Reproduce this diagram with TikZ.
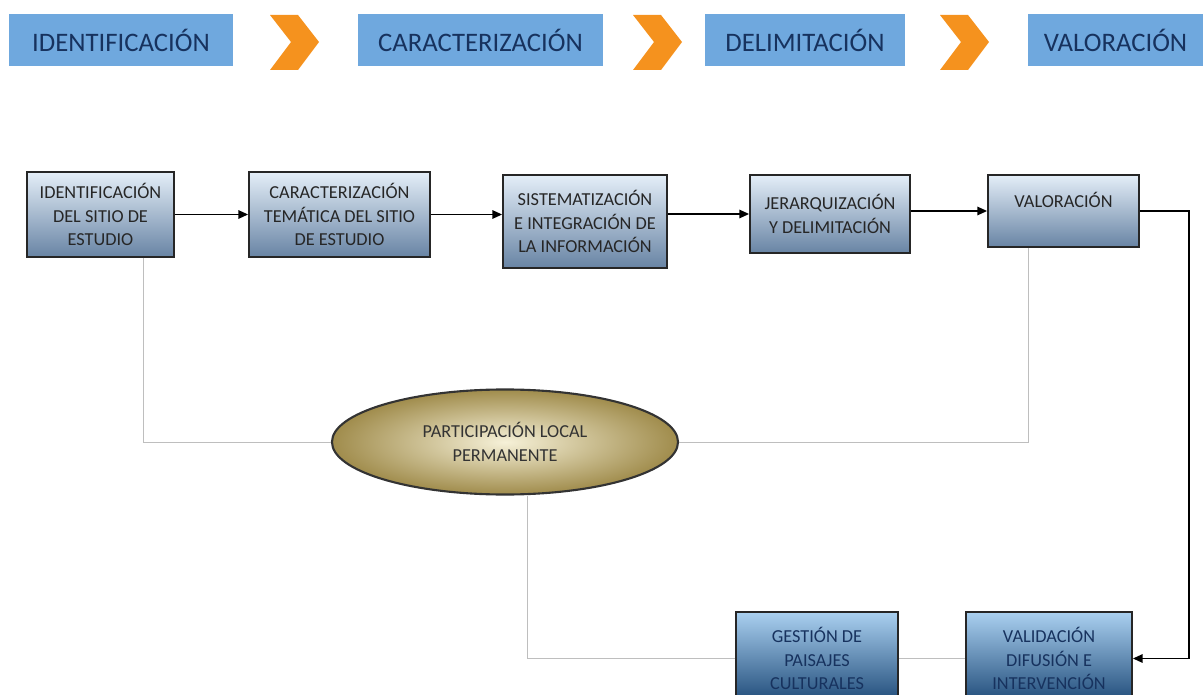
\documentclass[tikz,border=0pt]{standalone}
\usepackage{fontspec}
\setmainfont{Carlito}
\usetikzlibrary{arrows.meta,shapes.geometric}

\definecolor{barblue}{RGB}{111,168,222}
\definecolor{bartext}{RGB}{23,50,94}
\definecolor{chev}{RGB}{245,146,30}
\definecolor{boxtop}{RGB}{228,238,248}
\definecolor{boxbot}{RGB}{104,132,164}
\definecolor{deeptop}{RGB}{170,208,240}
\definecolor{deepbot}{RGB}{28,72,118}
\definecolor{goldin}{RGB}{246,241,216}
\definecolor{goldout}{RGB}{160,140,76}
\definecolor{linkgray}{RGB}{190,190,190}

\tikzset{
  bar/.style={fill=barblue, text=bartext, inner sep=0pt, minimum height=1.3cm,
    font=\fontsize{19}{22}\selectfont},
  stage/.style={draw=black!85, line width=1.2pt, top color=boxtop, bottom color=boxbot,
    align=center, inner sep=2pt, text=black!85, font=\fontsize{13}{17}\selectfont},
  deep/.style={stage, top color=deeptop, bottom color=deepbot, text=bartext},
  flow/.style={line width=1.3pt, -{Triangle[length=7pt,width=6pt]}},
  link/.style={draw=linkgray, line width=0.6pt}
}

\begin{document}
\begin{tikzpicture}[x=0.025cm, y=-0.025cm]
  \useasboundingbox (0,0) rectangle (1203,695);
  \clip (0,0) rectangle (1203,695);

  % top bar
  \node[bar, minimum width=5.6cm]   (t1) at (121,40)    {IDENTIFICACIÓN};
  \node[bar, minimum width=6.125cm] (t2) at (480.5,40)  {CARACTERIZACIÓN};
  \node[bar, minimum width=5cm]     (t3) at (805,40)    {DELIMITACIÓN};
  \node[bar, minimum width=4.375cm] (t4) at (1115.5,40) {VALORACIÓN};

  % chevrons
  \foreach \cx in {270,633,940}
    \fill[chev] (\cx,15) -- (\cx+28,15) -- (\cx+49,42) -- (\cx+28,70)
      -- (\cx,70) -- (\cx+21,42) -- cycle;

  % process boxes
  \node[stage, minimum width=3.675cm, minimum height=2.125cm] (b1) at (100.5,214.5)
    {IDENTIFICACIÓN\\DEL SITIO DE\\ESTUDIO};
  \node[stage, minimum width=4.525cm, minimum height=2.125cm] (b2) at (339.5,214.5)
    {CARACTERIZACIÓN\\TEMÁTICA DEL SITIO\\DE ESTUDIO};
  \node[stage, minimum width=4.1cm, minimum height=2.325cm] (b3) at (585,221.5)
    {SISTEMATIZACIÓN\\E INTEGRACIÓN DE\\LA INFORMACIÓN};
  \node[stage, minimum width=4cm, minimum height=1.95cm] (b4) at (830,214)
    {JERARQUIZACIÓN\\Y DELIMITACIÓN};
  \node[stage, minimum width=3.775cm, minimum height=1.8cm, text depth=0.55cm] (b5) at (1063.5,211)
    {VALORACIÓN};

  % bottom boxes
  \node[deep, minimum width=4.05cm, minimum height=2.325cm] (b6) at (817,658.5)
    {GESTIÓN DE\\PAISAJES\\CULTURALES};
  \node[deep, minimum width=4.15cm, minimum height=2.325cm] (b7) at (1049,658.5)
    {VALIDACIÓN\\DIFUSIÓN E\\INTERVENCIÓN};

  % ellipse
  \node[ellipse, draw=black!80, line width=1.5pt, inner color=goldin, outer color=goldout,
    minimum width=8.65cm, minimum height=2.625cm, inner sep=0pt, align=center,
    text=black!80, font=\fontsize{13}{17}\selectfont] (part) at (505,442)
    {PARTICIPACIÓN LOCAL\\PERMANENTE};

  % arrows
  \draw[flow] (b1) -- (b2);
  \draw[flow] (b2.east) -- (b2.east -| b3.west);
  \draw[flow] (b3.east |- b4.west) -- (b4.west);
  \draw[flow] (b4.east |- b5.west) -- (b5.west);
  \draw[flow] (b5.east) -- ++(49,0) |- (b7.east);

  % gray links
  \draw[link] ([xshift=1.0625cm]b1.south) |- (part.west);
  \draw[link] ([xshift=-0.8875cm]b5.south) |- (part.east);
  \draw[link] (b6.west) -| ([xshift=0.55cm]part.south);
  \draw[link] (b6) -- (b7);
\end{tikzpicture}
\end{document}
